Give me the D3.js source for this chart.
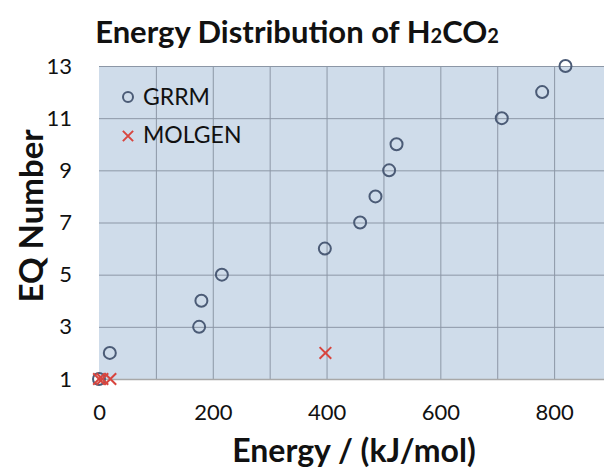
<!DOCTYPE html>
<html lang="en">
<head>
<meta charset="UTF-8">
<title>Energy Distribution of H2CO2</title>
<script src="https://d3js.org/d3.v7.min.js"></script>
<style>
  body { margin: 0; background: #fff; }
  svg text { font-family: Lato, "Open Sans", sans-serif; fill: #111; }
</style>
</head>
<body>
<div id="chart"></div>
<script>
// data
var grrmEnergy = [0, 19, 176, 180, 216, 397, 459, 486, 510, 523, 708, 779, 820];
var grrmEq     = [1, 2, 3, 4, 5, 6, 7, 8, 9, 10, 11, 12, 13];
var molgenEnergy = [0, 6, 20, 398];
var molgenEq     = [1, 1, 1, 2];
var xTicks = [0, 200, 400, 600, 800];
var yTicks = [1, 3, 5, 7, 9, 11, 13];

var width = 604, height = 470;
var plotLeft = 99, plotTop = 66, plotRight = 611, plotBottom = 379;

var svg = d3.select("#chart").append("svg")
    .attr("width", width)
    .attr("height", height);

var x = d3.scaleLinear().domain([0, 900]).range([plotLeft, plotRight]);
var y = d3.scaleLinear().domain([1, 13]).range([plotBottom, plotTop]);

// plot background
svg.append("rect")
    .attr("x", plotLeft).attr("y", plotTop)
    .attr("width", plotRight - plotLeft).attr("height", plotBottom - plotTop)
    .attr("fill", "#cfdcea");

// grid lines
svg.append("g")
    .attr("transform", "translate(0," + plotBottom + ")")
    .call(d3.axisBottom(x).tickValues(d3.range(100, 900, 100)).tickSize(-(plotBottom - plotTop)).tickFormat(""))
    .call(g => g.select(".domain").remove())
    .selectAll("line").attr("stroke", "#8c97a6").attr("stroke-width", 1);

svg.append("g")
    .attr("transform", "translate(" + plotLeft + ",0)")
    .call(d3.axisLeft(y).tickValues(yTicks.slice(1)).tickSize(-(plotRight - plotLeft)).tickFormat(""))
    .call(g => g.select(".domain").remove())
    .selectAll("line").attr("stroke", "#8c97a6").attr("stroke-width", 1);

// bottom axis line
svg.append("line")
    .attr("x1", plotLeft).attr("x2", width)
    .attr("y1", plotBottom + 0.5).attr("y2", plotBottom + 0.5)
    .attr("stroke", "#a8a8a8").attr("stroke-width", 1.5);

// tick labels
var xAxis = svg.append("g")
    .attr("transform", "translate(0," + plotBottom + ")")
    .call(d3.axisBottom(x).tickValues(xTicks).tickSize(0).tickPadding(25));
xAxis.select(".domain").remove();
xAxis.selectAll("text").style("font-size", "22px").attr("fill", "#222");

var yAxis = svg.append("g")
    .attr("transform", "translate(" + plotLeft + ",0)")
    .call(d3.axisLeft(y).tickValues(yTicks).tickSize(0).tickPadding(27));
yAxis.select(".domain").remove();
yAxis.selectAll("text").style("font-size", "22px").attr("fill", "#222");

// GRRM points
var grrm = grrmEnergy.map((e, i) => ({ e: e, q: grrmEq[i] }));
svg.append("g").selectAll("circle")
    .data(grrm)
    .enter().append("circle")
    .attr("cx", d => x(d.e))
    .attr("cy", d => y(d.q))
    .attr("r", 6)
    .attr("fill", "none")
    .attr("stroke", "#4b5b76")
    .attr("stroke-width", 2);

// MOLGEN points
var molgen = molgenEnergy.map((e, i) => ({ e: e, q: molgenEq[i] }));
var cross = d3.symbol().type(d3.symbolX).size(90);
svg.append("g").selectAll("path")
    .data(molgen)
    .enter().append("path")
    .attr("transform", d => "translate(" + x(d.e) + "," + y(d.q) + ")")
    .attr("d", cross)
    .attr("fill", "none")
    .attr("stroke", "#d8453e")
    .attr("stroke-width", 2);

// legend
var legend = svg.append("g");
legend.append("circle")
    .attr("cx", 128).attr("cy", 97).attr("r", 5)
    .attr("fill", "none").attr("stroke", "#4b5b76").attr("stroke-width", 2);
legend.append("text").attr("x", 143).attr("y", 105).style("font-size", "23px").text("GRRM");
legend.append("path")
    .attr("transform", "translate(128,136)")
    .attr("d", d3.symbol().type(d3.symbolX).size(70))
    .attr("fill", "none").attr("stroke", "#d8453e").attr("stroke-width", 2);
legend.append("text").attr("x", 143).attr("y", 143).style("font-size", "23px").text("MOLGEN");

// title
var title = svg.append("text")
    .attr("x", 297).attr("y", 43)
    .attr("text-anchor", "middle")
    .style("font-size", "31px").style("font-weight", "bold");
title.append("tspan").text("Energy Distribution of H");
title.append("tspan").style("font-size", "20px").text("2");
title.append("tspan").text("CO");
title.append("tspan").style("font-size", "20px").text("2");

// axis titles
svg.append("text")
    .attr("x", 354).attr("y", 462)
    .attr("text-anchor", "middle")
    .style("font-size", "32px").style("font-weight", "bold")
    .text("Energy / (kJ/mol)");

svg.append("text")
    .attr("transform", "translate(43,216) rotate(-90)")
    .attr("text-anchor", "middle")
    .style("font-size", "33px").style("font-weight", "bold")
    .text("EQ Number");
</script>
</body>
</html>
